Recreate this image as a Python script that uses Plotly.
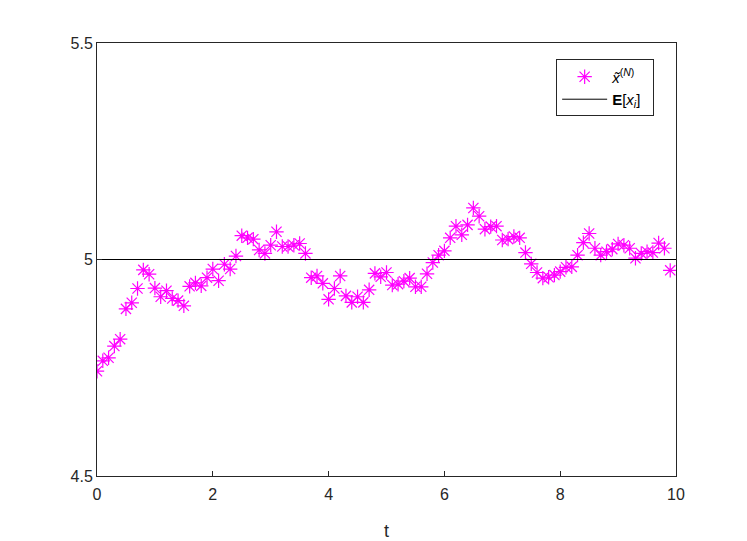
import plotly.graph_objects as go

# muestras t = 0:0.1:9.9
t = [round(0.1 * i, 1) for i in range(100)]
x_tilde = [
    4.742, 4.766, 4.773, 4.800, 4.816, 4.886, 4.900, 4.933, 4.976, 4.966,
    4.934, 4.914, 4.928, 4.910, 4.905, 4.893, 4.938, 4.946, 4.939, 4.958,
    4.978, 4.951, 4.989, 4.978, 5.008, 5.055, 5.050, 5.047, 5.022, 5.014,
    5.033, 5.064, 5.030, 5.030, 5.033, 5.037, 5.014, 4.958, 4.962, 4.945,
    4.908, 4.933, 4.962, 4.916, 4.901, 4.914, 4.901, 4.930, 4.968, 4.960,
    4.970, 4.941, 4.943, 4.950, 4.957, 4.937, 4.937, 4.967, 4.993, 5.010,
    5.020, 5.050, 5.077, 5.057, 5.080, 5.119, 5.100, 5.070, 5.076, 5.077,
    5.045, 5.047, 5.053, 5.050, 5.016, 4.990, 4.970, 4.957, 4.959, 4.964,
    4.972, 4.982, 4.983, 5.010, 5.039, 5.060, 5.026, 5.010, 5.018, 5.024,
    5.036, 5.033, 5.026, 5.003, 5.014, 5.018, 5.016, 5.038, 5.026, 4.975,
]
media = 5.0
t_linea = [0, 10]

fig = go.Figure()
fig.add_trace(go.Scatter(x=t, y=x_tilde, mode='markers',
                         name='<i>x̃</i><sup>(<i>N</i>)</sup>&nbsp;&nbsp;&nbsp;',
                         marker=dict(symbol='asterisk-open', size=12,
                                     color='#FF00FF',
                                     line=dict(color='#FF00FF', width=1.2))))
fig.add_trace(go.Scatter(x=t_linea, y=[media, media], mode='lines',
                         name='<b>E</b>[<i>x</i><sub><i>i</i></sub>]',
                         line=dict(color='black', width=1)))

eje = dict(showline=True, linecolor='#262626', linewidth=1, mirror=True,
           ticks='inside', ticklen=5, tickcolor='#262626', showgrid=False,
           zeroline=False, automargin=False,
           tickfont=dict(size=16, color='#262626'))

fig.update_xaxes(range=[0, 10], tickvals=[0, 2, 4, 6, 8, 10], ticklabelstandoff=4,
                 title=dict(text='t', font=dict(size=18, color='#262626'), standoff=22), **eje)
fig.update_yaxes(range=[4.5, 5.5], tickvals=[4.5, 5, 5.5],
                 ticktext=['4.5', '5', '5.5'], **eje)

# la pagina tiene 8px de margen en el body
fig.update_layout(
    width=739, height=533,
    margin=dict(l=89, r=71, t=35, b=65),
    plot_bgcolor='white', paper_bgcolor='white',
    font=dict(family='Liberation Sans, Arial, sans-serif', color='#262626'),
    showlegend=True,
    legend=dict(x=0.793, y=0.962, xanchor='left', yanchor='top',
                bgcolor='white', bordercolor='#262626', borderwidth=1,
                itemwidth=45, font=dict(size=15, color='black')),
)

fig.write_html("out.html")
